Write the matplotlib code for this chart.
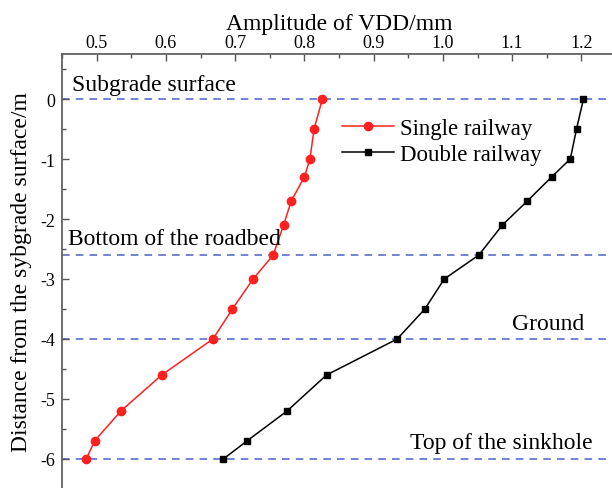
import matplotlib
matplotlib.use("Agg")
import matplotlib.pyplot as plt
from matplotlib.ticker import MultipleLocator

plt.rcParams['font.family'] = ['Liberation Serif', 'DejaVu Serif']

depth_single = [0, -0.5, -1, -1.3, -1.7, -2.1, -2.6, -3, -3.5, -4, -4.6, -5.2, -5.7, -6]
amp_single = [0.826, 0.814, 0.808, 0.800, 0.781, 0.770, 0.755, 0.726, 0.696, 0.668, 0.594, 0.535, 0.497, 0.485]
depth_double = [0, -0.5, -1, -1.3, -1.7, -2.1, -2.6, -3, -3.5, -4, -4.6, -5.2, -5.7, -6]
amp_double = [1.203, 1.193, 1.184, 1.157, 1.122, 1.086, 1.052, 1.002, 0.974, 0.934, 0.832, 0.775, 0.717, 0.683]
boundary_depths = [0, -2.6, -4, -6]
boundary_labels = ["Subgrade surface", "Bottom of the roadbed", "Ground", "Top of the sinkhole"]
series_names = ["Single railway", "Double railway"]

fig = plt.figure(figsize=(6.12, 4.89), dpi=100)
ax = fig.add_axes([62/612, 1 - 490/489, (616-62)/612, (490-55)/489])

for d in boundary_depths:
    ax.axhline(d, color='#4a62c4', lw=1.1, ls=(0, (5, 4)), zorder=1)

ax.plot(amp_single, depth_single, color='#ff2020', lw=1.1, marker='o', ms=6, label=series_names[0], zorder=3)
ax.plot(amp_double, depth_double, color='black', lw=1.1, marker='s', ms=5, label=series_names[1], zorder=3)

ax.set_xlim(0.45, 1.25)
ax.set_ylim(-6.5, 0.75)
ax.xaxis.set_major_locator(MultipleLocator(0.1))
ax.xaxis.set_minor_locator(MultipleLocator(0.05))
ax.yaxis.set_major_locator(MultipleLocator(1))
ax.yaxis.set_minor_locator(MultipleLocator(0.5))
ax.xaxis.tick_top()
ax.xaxis.set_label_position('top')
ax.set_xticks([0.5, 0.6, 0.7, 0.8, 0.9, 1.0, 1.1, 1.2])
ax.set_xticklabels(['0.5', '0.6', '0.7', '0.8', '0.9', '1.0', '1.1', '1.2'])
ax.set_yticks([0, -1, -2, -3, -4, -5, -6])
ax.set_yticklabels(['0', '-1', '-2', '-3', '-4', '-5', '-6'])
ax.tick_params(which='both', direction='in', top=True, bottom=False, left=True, right=False,
               labelsize=13, color='#555555')
ax.tick_params(axis='x', pad=2)
ax.tick_params(axis='y', pad=5)
ax.tick_params(which='major', length=5, width=1)
ax.tick_params(which='minor', length=3, width=1)
for s in ax.spines.values():
    s.set_color('#555555')
    s.set_linewidth(1.2)

ax.set_xlabel('Amplitude of VDD/mm', fontsize=17, labelpad=4)
ax.set_ylabel('Distance from the sybgrade surface/m', fontsize=17, labelpad=6)

fs = 17
ax.text(0.465, 0.25, boundary_labels[0], fontsize=fs, ha='left', va='center')
ax.text(0.459, -2.33, boundary_labels[1], fontsize=fs, ha='left', va='center')
ax.text(1.152, -3.75, boundary_labels[2], fontsize=fs, ha='center', va='center')
ax.text(1.084, -5.72, boundary_labels[3], fontsize=fs, ha='center', va='center')

ax.legend(loc='upper left', bbox_to_anchor=(0.505, 0.854), frameon=False, fontsize=16.5,
          handlelength=2.3, handletextpad=0.22, labelspacing=0.25, borderaxespad=0,
          borderpad=0)

fig.savefig('out.png', dpi=100)
